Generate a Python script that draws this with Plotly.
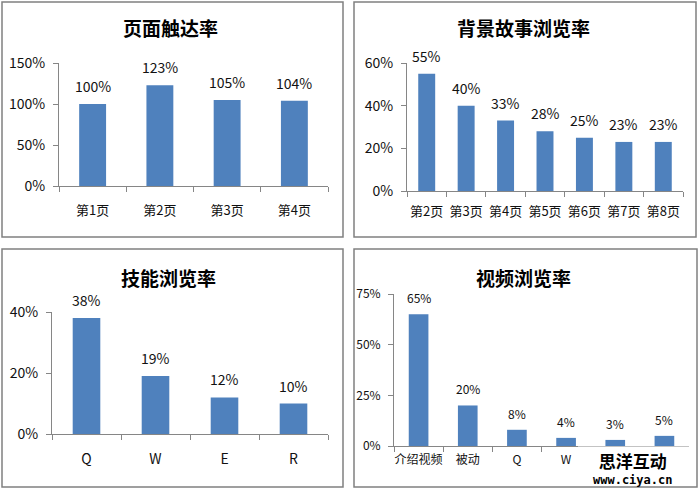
import plotly.graph_objects as go

# ---------------- data ----------------
cats1 = ["第1页", "第2页", "第3页", "第4页"]
vals1 = [100, 123, 105, 104]

cats2 = ["第2页", "第3页", "第4页", "第5页", "第6页", "第7页", "第8页"]
vals2 = [55, 40, 33, 28, 25, 23, 23]

cats3 = ["Q", "W", "E", "R"]
vals3 = [38, 19, 12, 10]

cats4 = ["介绍视频", "被动", "Q", "W", "E", "R"]
vals4 = [65, 20, 8, 4, 3, 5]
# last two category labels are hidden behind the watermark in the source picture
labels4 = ["介绍视频", "被动", "Q", "W", "", ""]

titles = ["页面触达率", "背景故事浏览率", "技能浏览率", "视频浏览率"]

# ---------------- layout helpers ----------------
W, H = 700, 489
def fx(x): return x / W
def fy(y): return 1 - y / H

FONT = "Noto Sans CJK SC, DejaVu Sans, sans-serif"
BAR = "#4F81BD"
AX = "#868686"

panels = [
    dict(cats=cats1, vals=vals1, labels=cats1, title=titles[0], box=(2, 2, 343, 237),
         plot=(59, 63, 328, 186), rng=(0, 150), dtick=50, fs=14, cfs=13,
         gap=0.6, title_xy=(170, 28), standoff=12),
    dict(cats=cats2, vals=vals2, labels=cats2, title=titles[1], box=(354, 2, 696, 237),
         plot=(407, 63, 683, 191), rng=(0, 60), dtick=20, fs=14, cfs=13,
         gap=0.57, title_xy=(523, 28), standoff=8),
    dict(cats=cats3, vals=vals3, labels=cats3, title=titles[2], box=(2, 249, 343, 487),
         plot=(52, 312, 328, 434), rng=(0, 40), dtick=20, fs=14, cfs=14,
         gap=0.6, title_xy=(168, 277), standoff=12),
    dict(cats=cats4, vals=vals4, labels=labels4, title=titles[3], box=(354, 249, 697, 487),
         plot=(394, 294, 689, 446), rng=(0, 75), dtick=25, fs=12, cfs=12,
         gap=0.6, title_xy=(523, 277), standoff=3),
]

fig = go.Figure()
layout = dict(width=W, height=H, margin=dict(l=0, r=0, t=0, b=0, autoexpand=False),
              paper_bgcolor="white", plot_bgcolor="white", showlegend=False,
              font=dict(family=FONT, color="#111111"))
shapes, annotations = [], []

for i, p in enumerate(panels, start=1):
    sfx = "" if i == 1 else str(i)
    xa, ya = "x" + sfx, "y" + sfx
    fig.add_trace(go.Bar(x=p["cats"], y=p["vals"], xaxis=xa, yaxis=ya,
                         width=1 - p["gap"],
                         marker=dict(color=BAR, line=dict(width=0)),
                         hoverinfo="skip"))
    x0, y0, x1, y1 = p["plot"]
    layout["xaxis" + sfx] = dict(
        domain=[fx(x0), fx(x1)], anchor=ya, type="category", automargin=False,
        tickmode="array", tickvals=p["cats"], ticktext=p["labels"],
        showline=True, linecolor=AX, linewidth=1, showgrid=False, zeroline=False,
        ticks="outside", tickson="boundaries", ticklen=5, tickcolor=AX,
        tickangle=0,
        tickfont=dict(size=p["cfs"], family=FONT, color="#111111"),
        ticklabelstandoff=p["standoff"], fixedrange=True)
    layout["yaxis" + sfx] = dict(
        domain=[fy(y1), fy(y0)], anchor=xa, range=list(p["rng"]), automargin=False,
        tick0=0, dtick=p["dtick"], ticksuffix="%",
        showline=True, linecolor=AX, linewidth=1, showgrid=False, zeroline=False,
        ticks="outside", ticklen=5, tickcolor=AX,
        tickfont=dict(size=p["fs"], family=FONT, color="#111111"),
        ticklabelstandoff=5, fixedrange=True)
    # data labels
    for c, v in zip(p["cats"], p["vals"]):
        annotations.append(dict(x=c, y=v, xref=xa, yref=ya, text=f"{v}%",
                                showarrow=False, yanchor="bottom", yshift=6,
                                font=dict(size=p["fs"], family=FONT, color="#111111")))
    # title
    tx, ty = p["title_xy"]
    annotations.append(dict(x=fx(tx), y=fy(ty), xref="paper", yref="paper",
                            text="<b>" + p["title"] + "</b>", showarrow=False,
                            xanchor="center", yanchor="middle",
                            font=dict(size=19, family=FONT, color="#000000")))
    # panel border
    bx0, by0, bx1, by1 = p["box"]
    shapes.append(dict(type="rect", xref="paper", yref="paper",
                       x0=fx(bx0), x1=fx(bx1), y0=fy(by1), y1=fy(by0),
                       line=dict(color="#808080", width=1.5), fillcolor="rgba(0,0,0,0)"))

# watermark (covers part of last panel's category axis)
shapes.append(dict(type="rect", xref="paper", yref="paper", layer="above",
                   x0=fx(578), x1=fx(692), y0=fy(485), y1=fy(446.5),
                   line=dict(width=0), fillcolor="white"))
annotations.append(dict(
    x=fx(632), y=fy(467), xref="paper", yref="paper", showarrow=False,
    xanchor="center", yanchor="middle", align="center",
    text=("<span style='font-size:17px'><b>思洋互动</b></span><br>"
          "<span style='font-family:DejaVu Sans Mono, monospace'>"
          "<b>www.ciya.cn</b></span>"),
    font=dict(size=12, family=FONT, color="#000000")))

layout["shapes"] = shapes
layout["annotations"] = annotations
fig.update_layout(**layout)

fig.write_html("out.html", config={"displayModeBar": False},
               post_script="document.body.style.margin='0px';document.body.style.padding='0px';")
